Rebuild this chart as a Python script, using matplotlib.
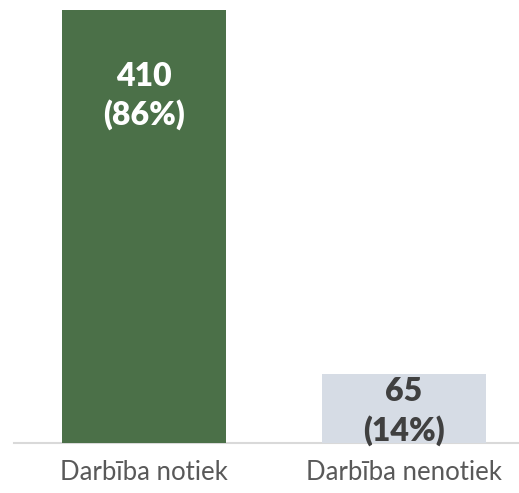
import matplotlib
matplotlib.use('Agg')
import matplotlib.pyplot as plt

categories = ['Darbība notiek', 'Darbība nenotiek']
counts = [410, 65]
percents = [86, 14]
bar_colors = ['#4B7048', '#D6DCE5']
label_colors = ['white', '#404040']

plt.rcParams['font.family'] = ['Lato', 'DejaVu Sans']

fig = plt.figure(figsize=(5.19, 4.93), dpi=100)
ax = fig.add_axes([14 / 519, 1 - 443 / 493, 505 / 519, 433 / 493])

x = list(range(len(categories)))
ax.bar(x, counts, width=0.63, color=bar_colors, zorder=2)

# label offsets below bar top (pixels)
offsets = [-86, -37]
for xi, c, p, col, off in zip(x, counts, percents, label_colors, offsets):
    ax.annotate(f'{c}\n({p}%)', xy=(xi, c), xytext=(0, off), textcoords='offset pixels',
                ha='center', va='center', color=col, fontsize=23, fontweight='heavy',
                linespacing=1.35, zorder=3, annotation_clip=False)

ax.set_xlim(-0.5, 1.442)
ax.set_ylim(0, 410)
ax.set_xticks(x)
ax.set_xticklabels(categories, fontsize=18.5, color='#595959')
ax.tick_params(axis='x', length=0, pad=12.5)
ax.set_yticks([])
for s in ['top', 'right', 'left']:
    ax.spines[s].set_visible(False)
ax.spines['bottom'].set_color('#D9D9D9')
ax.spines['bottom'].set_linewidth(1.5)
ax.spines['bottom'].set_zorder(1)

fig.savefig('out.png', dpi=100)
